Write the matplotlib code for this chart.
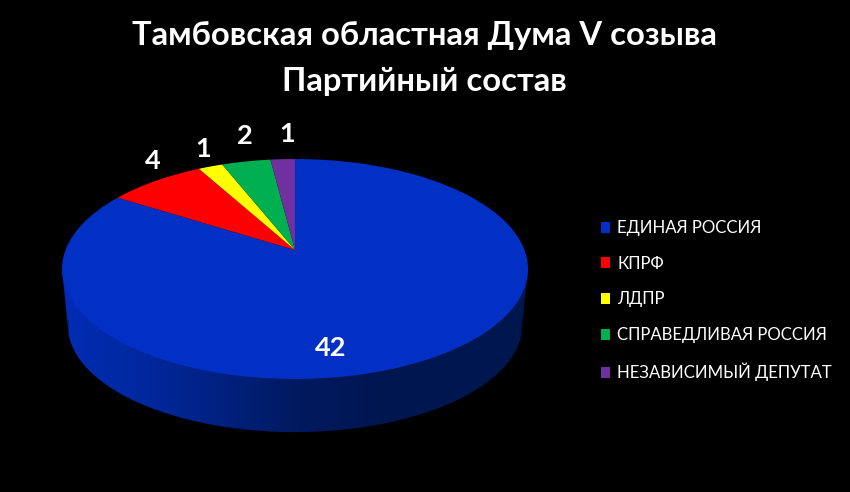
import numpy as np
import matplotlib
matplotlib.use("Agg")
import matplotlib.pyplot as plt
from matplotlib.path import Path
from matplotlib.transforms import Transform, Affine2D
from matplotlib.colors import LinearSegmentedColormap

# data
title_lines = ["Тамбовская областная Дума V созыва", "Партийный состав"]
parties = ["ЕДИНАЯ РОССИЯ", "КПРФ", "ЛДПР", "СПРАВЕДЛИВАЯ РОССИЯ", "НЕЗАВИСИМЫЙ ДЕПУТАТ"]
seats = [42, 4, 1, 2, 1]
colors = ["#0230C4", "#FF0000", "#FFFF00", "#00B050", "#7030A0"]

FONT = ["Lato", "Noto Sans"]


class Perspective(Transform):
    """Tilted-disc projection of the unit pie, hub at the origin."""
    input_dims = output_dims = 2
    has_inverse = False
    is_separable = False

    def __init__(self, a=229.5, b=106.7, k=0.1727):
        super().__init__()
        self.a, self.b, self.k = a, b, k

    def transform_non_affine(self, xy):
        xy = np.asarray(xy, float)
        d = 1 + self.k * xy[:, 1]
        return np.column_stack([self.a * xy[:, 0] / d, self.b * xy[:, 1] / d])


fig = plt.figure(figsize=(8.5, 4.92), dpi=100, facecolor="black")
ax = fig.add_axes([0, 0, 1, 1], facecolor="black")

persp = Perspective()
top_place = Affine2D().scale(1, -1).translate(295, 250)
low_place = Affine2D().scale(0.975, -0.97).translate(295, 307)

# side wall: hull of the top and lower rims with a left-to-right shade
t = np.linspace(0, 2 * np.pi, 400)
circle = np.column_stack([np.cos(t), np.sin(t)])
rim = persp.transform_non_affine(circle)
top_rim = top_place.transform(rim)
low_rim = low_place.transform(rim)
il = np.argmin(top_rim[:, 0])
ir = np.argmax(top_rim[:, 0])
low_front = low_rim[low_rim[:, 1] > low_rim[:, 1].mean()]
low_front = low_front[np.argsort(low_front[:, 0])]
hull = np.vstack([top_rim[il], low_front, top_rim[ir], top_rim[ir], top_rim[il]])
shade = LinearSegmentedColormap.from_list("wall", [
    (0.00, "#002CB4"), (0.13, "#0029A4"), (0.30, "#002288"),
    (0.50, "#001A60"), (0.70, "#001650"), (1.00, "#00164E")])
grad = np.linspace(0, 1, 466).reshape(1, -1)
im = ax.imshow(grad, cmap=shade, extent=(62, 528, 440, 260), aspect="auto", zorder=1)
im.set_clip_path(Path(hull), transform=ax.transData)

# pie top
wedges, _ = ax.pie(seats, colors=colors, startangle=90, counterclock=False,
                   wedgeprops=dict(linewidth=0))
for w in wedges:
    w.set_transform(persp + top_place + ax.transData)
    w.set_zorder(2)
    w.set_clip_on(False)

ax.set_aspect("auto")
ax.set_xlim(0, 850)
ax.set_ylim(492, 0)
ax.axis("off")

# value labels
label_xy = [(331, 348), (153, 161), (203, 149), (245, 136), (287, 134)]
for v, (x, y) in zip(seats, label_xy):
    ax.text(x, y, str(v), color="white", fontsize=19.5, fontweight="bold",
            family=FONT, ha="center", va="center", zorder=3)

# title
for line, y in zip(title_lines, (36, 81)):
    ax.text(424, y, line, color="white", fontsize=23.6, fontweight="bold",
            family=FONT, ha="center", va="center", zorder=3)

# legend
leg = ax.legend(wedges, parties, loc="upper left", bbox_to_anchor=(601, 220),
                bbox_transform=ax.transData, frameon=False, labelcolor="white",
                prop=dict(family=FONT, size=12.1), handlelength=0.54, handleheight=0.62,
                handletextpad=0.42, labelspacing=1.17, borderpad=0, borderaxespad=0)

fig.savefig("out.png", dpi=100, facecolor="black")
